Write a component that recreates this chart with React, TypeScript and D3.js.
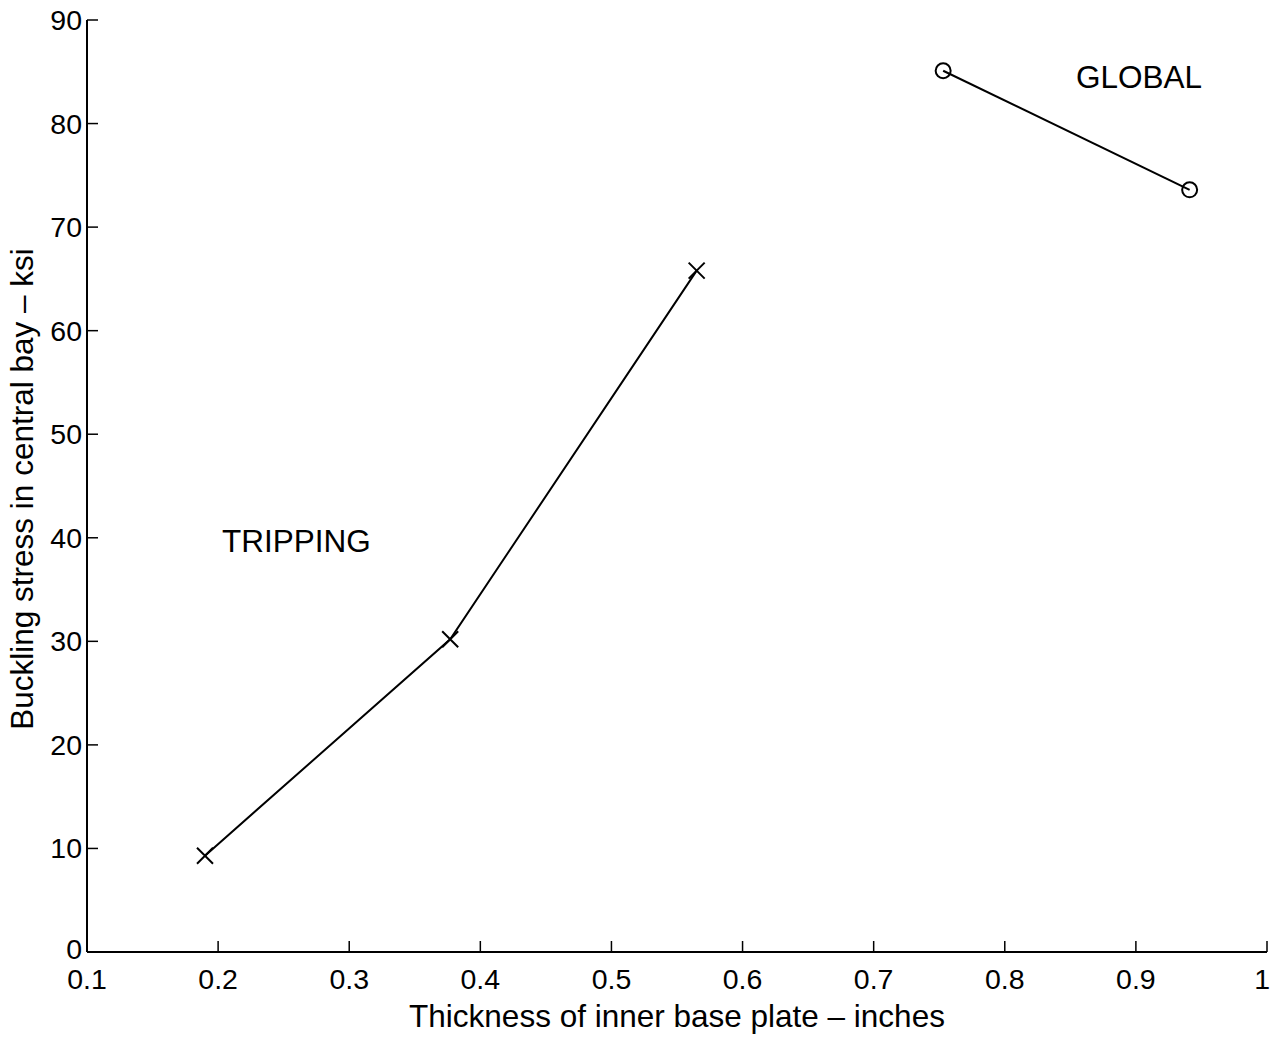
import { useRef, useEffect } from "react";
import * as d3 from "d3";

// thickness (inches) vs buckling stress (ksi)
const trippingX = [0.19, 0.377, 0.565];
const trippingY = [9.3, 30.2, 65.8];
const globalX = [0.753, 0.941];
const globalY = [85.1, 73.6];

const xTicks = [0.1, 0.2, 0.3, 0.4, 0.5, 0.6, 0.7, 0.8, 0.9, 1];
const yTicks = [0, 10, 20, 30, 40, 50, 60, 70, 80, 90];

const xLabel = "Thickness of inner base plate \u2013 inches";
const yLabel = "Buckling stress in central bay \u2013 ksi";

const App = () => {
  const svgRef = useRef(null);

  useEffect(() => {
    const svg = d3.select(svgRef.current);
    svg.selectAll("*").remove();

    const x = d3.scaleLinear().domain([0.1, 1]).range([87, 1267]);
    const y = d3.scaleLinear().domain([0, 90]).range([952, 20]);
    const font = "'Liberation Sans', Arial, Helvetica, sans-serif";

    const g = svg.append("g");

    // axes lines (only left + bottom)
    g.append("line")
      .attr("x1", x(0.1)).attr("x2", x(1))
      .attr("y1", y(0)).attr("y2", y(0))
      .attr("stroke", "#000").attr("stroke-width", 2);
    g.append("line")
      .attr("x1", x(0.1)).attr("x2", x(0.1))
      .attr("y1", y(0)).attr("y2", y(90))
      .attr("stroke", "#000").attr("stroke-width", 2);

    // x ticks (inward)
    g.selectAll(".xt")
      .data(xTicks)
      .join("line")
      .attr("x1", (d) => x(d)).attr("x2", (d) => x(d))
      .attr("y1", y(0)).attr("y2", y(0) - 11)
      .attr("stroke", "#000").attr("stroke-width", 1.5);
    g.selectAll(".xl")
      .data(xTicks)
      .join("text")
      .attr("x", (d, i) => (i === xTicks.length - 1 ? x(d) + 3 : x(d)))
      .attr("y", y(0) + 37)
      .attr("text-anchor", (d, i) => (i === xTicks.length - 1 ? "end" : "middle"))
      .style("font-family", font)
      .style("font-size", "28.5px")
      .text((d) => d3.format("~g")(d));

    // y ticks (inward)
    g.selectAll(".yt")
      .data(yTicks)
      .join("line")
      .attr("x1", x(0.1)).attr("x2", x(0.1) + 11)
      .attr("y1", (d) => y(d)).attr("y2", (d) => y(d))
      .attr("stroke", "#000").attr("stroke-width", 1.5);
    g.selectAll(".yl")
      .data(yTicks)
      .join("text")
      .attr("x", x(0.1) - 5)
      .attr("y", (d) => y(d) + (d === 0 ? 7 : 10))
      .attr("text-anchor", "end")
      .style("font-family", font)
      .style("font-size", "28.5px")
      .text((d) => d);

    // axis labels
    g.append("text")
      .attr("x", 677)
      .attr("y", 1027)
      .attr("text-anchor", "middle")
      .style("font-family", font)
      .style("font-size", "31.5px")
      .text(xLabel);
    g.append("text")
      .attr("transform", `translate(33,489) rotate(-90)`)
      .attr("text-anchor", "middle")
      .style("font-family", font)
      .style("font-size", "31.5px")
      .text(yLabel);

    const line = d3.line().x((d) => x(d[0])).y((d) => y(d[1]));

    // tripping series
    const trip = trippingX.map((v, i) => [v, trippingY[i]]);
    g.append("path")
      .attr("d", line(trip))
      .attr("fill", "none")
      .attr("stroke", "#000")
      .attr("stroke-width", 2);
    const s = 8;
    trip.forEach((d) => {
      const cx = x(d[0]);
      const cy = y(d[1]);
      g.append("path")
        .attr("d", `M${cx - s},${cy - s}L${cx + s},${cy + s}M${cx - s},${cy + s}L${cx + s},${cy - s}`)
        .attr("stroke", "#000")
        .attr("stroke-width", 2);
    });

    // global series
    const glob = globalX.map((v, i) => [v, globalY[i]]);
    g.append("path")
      .attr("d", line(glob))
      .attr("fill", "none")
      .attr("stroke", "#000")
      .attr("stroke-width", 2);
    g.selectAll(".gc")
      .data(glob)
      .join("circle")
      .attr("cx", (d) => x(d[0]))
      .attr("cy", (d) => y(d[1]))
      .attr("r", 7.5)
      .attr("fill", "none")
      .attr("stroke", "#000")
      .attr("stroke-width", 2);

    // annotations
    g.append("text")
      .attr("x", 222)
      .attr("y", 552)
      .style("font-family", font)
      .style("font-size", "31.5px")
      .text("TRIPPING");
    g.append("text")
      .attr("x", 1076)
      .attr("y", 88)
      .style("font-family", font)
      .style("font-size", "31.5px")
      .text("GLOBAL");
  }, []);

  return (
    <div style={{ position: "absolute", left: 0, top: 0, width: 1272, height: 1037, background: "#fff" }}>
      <svg ref={svgRef} width={1272} height={1037} />
    </div>
  );
};

export default App;
